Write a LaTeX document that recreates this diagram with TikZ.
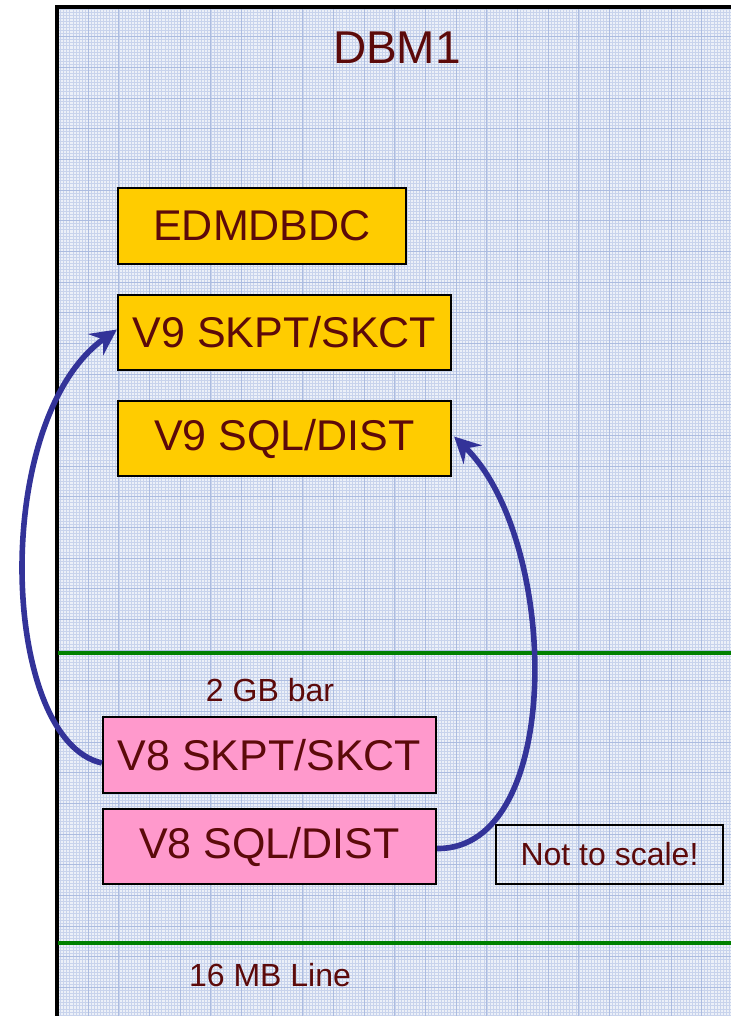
\documentclass[tikz,border=0pt]{standalone}
\usepackage{fontspec}
\setmainfont{Liberation Sans}
\usetikzlibrary{arrows.meta}
\definecolor{txtred}{RGB}{92,10,10}
\definecolor{gold}{RGB}{255,204,0}
\definecolor{pinkbox}{RGB}{255,153,204}
\definecolor{navy}{RGB}{51,51,153}
\definecolor{paper}{RGB}{236,240,248}
\definecolor{gridminor}{RGB}{200,211,236}
\definecolor{gridmajor}{RGB}{172,188,224}
\definecolor{barline}{RGB}{0,128,0}
\tikzset{basic/.style={draw,line width=1.1pt,text=txtred,inner sep=0pt,
                       font=\fontsize{21.5}{24}\selectfont}}
\tikzset{v9box/.style={basic,fill=gold,minimum width=166.5pt,minimum height=37.5pt}}
\tikzset{v8box/.style={basic,fill=pinkbox,minimum width=166.5pt,minimum height=38pt}}
\tikzset{label/.style={text=txtred,inner sep=0pt,font=\fontsize{16}{18}\selectfont}}
\tikzset{move/.style={navy,line width=2.8pt,-{Stealth[length=13pt,width=13pt,inset=4.5pt]}}}

\begin{document}
\begin{tikzpicture}[x=0.5pt,y=-0.5pt]
    \useasboundingbox (0,0) rectangle (731,1016);

    % graph paper
    \fill[paper] (58,7) rectangle (731,1016);
    \foreach \i in {0,...,220}{
        \draw[gridminor,line width=0.4pt] (57.6+\i*3.067,7) -- (57.6+\i*3.067,1016);
    }
    \foreach \j in {1,...,330}{
        \draw[gridminor,line width=0.4pt] (58,6+\j*3.067) -- (731,6+\j*3.067);
    }
    \foreach \i in {1,...,22}{
        \draw[gridmajor,line width=0.5pt] (57.6+\i*30.67,7) -- (57.6+\i*30.67,1016);
    }
    \foreach \j in {1,...,33}{
        \draw[gridmajor,line width=0.5pt] (58,6+\j*30.67) -- (731,6+\j*30.67);
    }

    % address space frame
    \draw[line width=1.6pt] (57,1016) -- (57,7) -- (731,7);
    \node[label,font=\fontsize{23}{26}\selectfont] (dbm) at (397,48) {DBM1};

    % bars
    \draw[barline,line width=1.6pt] (58,653) -- (731,653);
    \draw[barline,line width=1.6pt] (58,943) -- (731,943);
    \node[label] (bar2g) at (270,690) {2 GB bar};
    \node[label] (line16m) at (270,975) {16 MB Line};

    % storage areas
    \node[v9box,minimum width=144pt,minimum height=38pt] (edm) at (262,226) {EDMDBDC};
    \node[v9box] (v9skpt) at (284.5,332.5) {V9 SKPT/SKCT};
    \node[v9box] (v9sql) at (284.5,438.5) {V9 SQL/DIST};
    \node[v8box] (v8skpt) at (269.5,755) {V8 SKPT/SKCT};
    \node[v8box,minimum height=37.5pt] (v8sql) at (269.5,846.5) {V8 SQL/DIST};
    \node[basic,font=\fontsize{16}{18}\selectfont,minimum width=113.5pt,minimum height=29.5pt] (note) at (609.5,854.5) {Not to scale!};

    % moved above the bar
    \draw[move] ([yshift=-4pt]v8skpt.west) .. controls (0,740) and (-10,420) .. ([yshift=1.5pt]v9skpt.west);
    \draw[move] ([yshift=-1pt]v8sql.east) .. controls (565,850) and (560,540) .. ([xshift=1pt,yshift=1pt]v9sql.east);
\end{tikzpicture}
\end{document}
